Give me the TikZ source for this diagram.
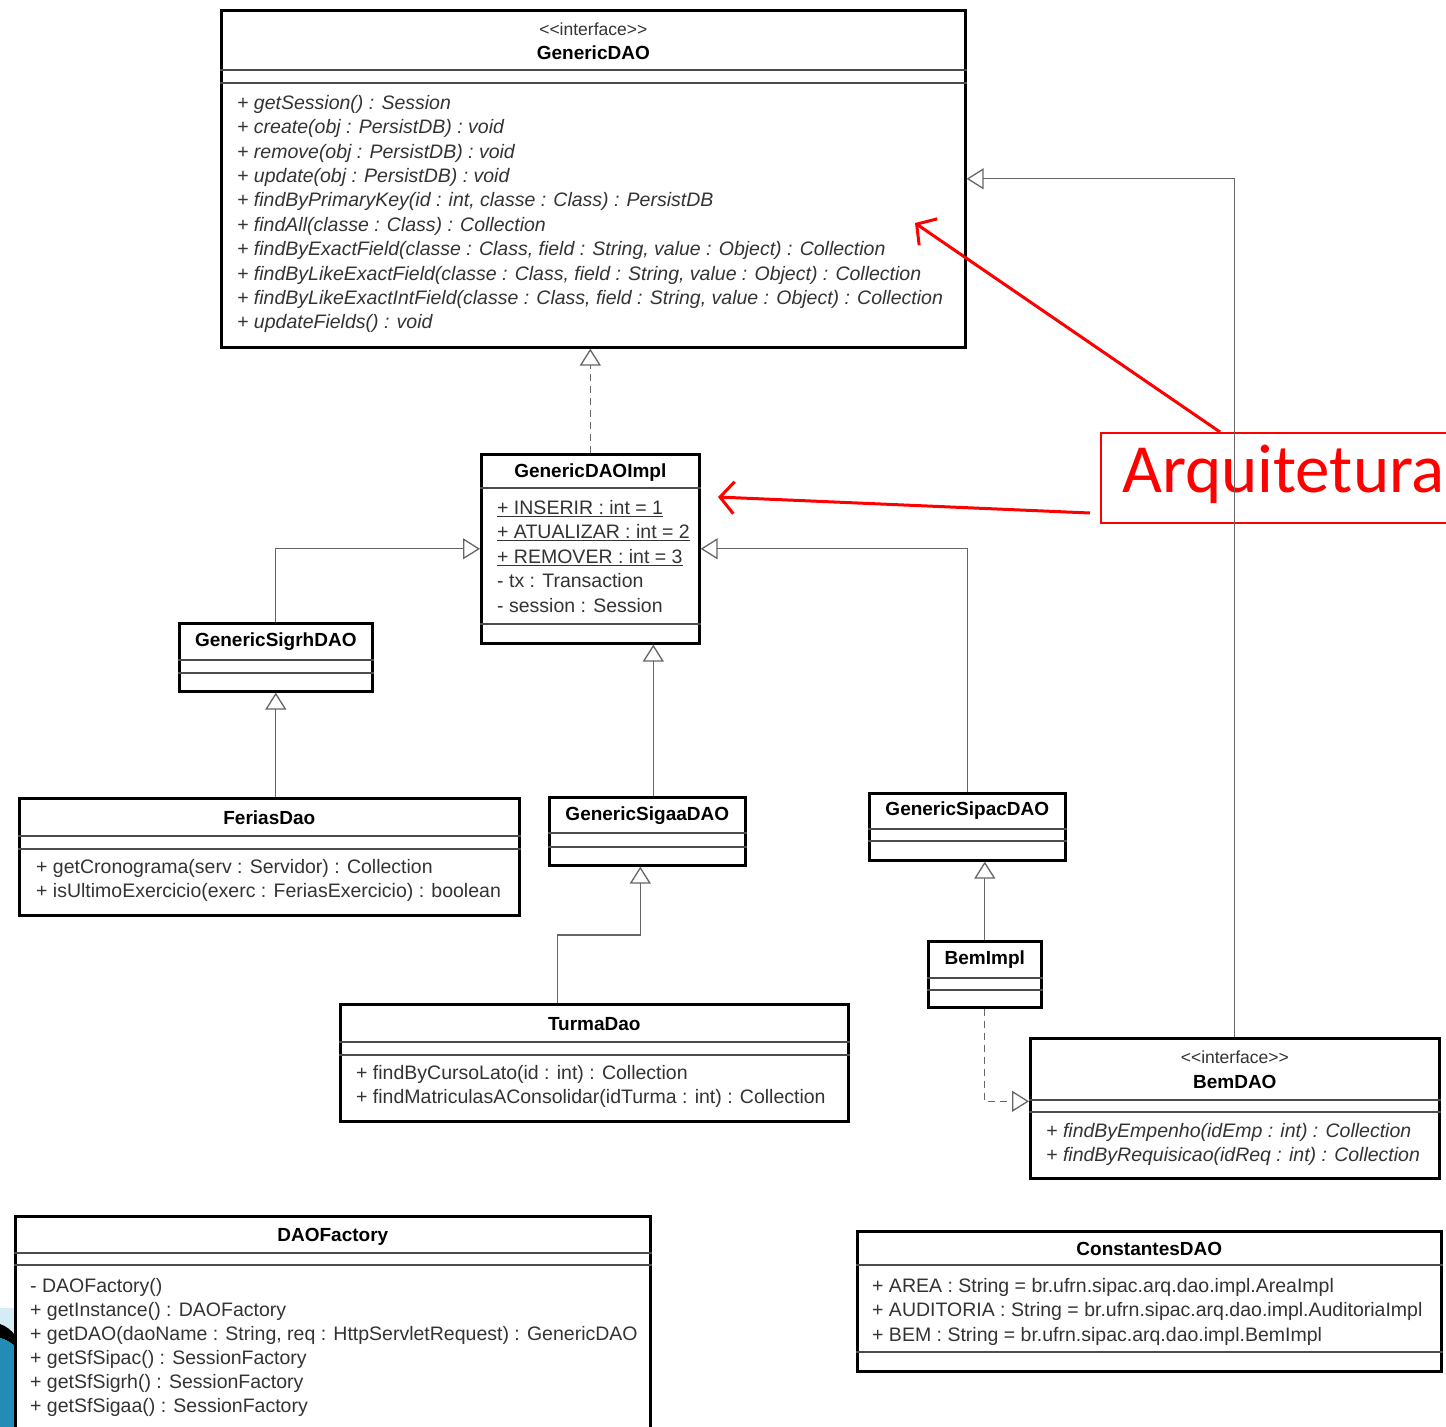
\documentclass[tikz,border=0pt]{standalone}
\usepackage{fontspec}
\setmainfont{Liberation Sans}
\newfontfamily\slidefont{Carlito}
\usetikzlibrary{arrows.meta}
\definecolor{ornteal}{RGB}{34,140,182}
\definecolor{ornpale}{RGB}{214,236,244}

\begin{document}
\begin{tikzpicture}[x=1pt,y=-1pt,
  classbox/.style={draw=black, line width=2.6pt, rectangle, inner sep=0pt, anchor=north west},
  comp/.style={draw=black!70, line width=1.3pt},
  member/.style={inner sep=0pt, anchor=north west, align=left, text=black!80,
    font=\fontsize{19.5}{24.4}\selectfont},
  cname/.style={inner sep=0pt, font=\fontsize{19}{22}\selectfont\bfseries},
  stereo/.style={inner sep=0pt, font=\fontsize{17.5}{20}\selectfont, text=black!80},
  gen/.style={draw=black!60, line width=1.3pt,
    -{Triangle[open, length=17pt, width=21pt, fill=white]}},
  real/.style={gen, dash pattern=on 7pt off 5pt},
  note/.style={draw=red, line width=3pt, -{Straight Barb[length=14pt, width=32pt]}},
]
\useasboundingbox (0,0) rectangle (1446,1427);
\clip (0,0) rectangle (1446,1427);
\fill[white] (0,0) rectangle (1446,1427);

% slide corner ornament
\fill[ornpale] (0,1308) rectangle (15,1427);
\fill[black] (0,1324) .. controls (6,1326) and (11,1330) .. (15,1335)
  -- (15,1346) .. controls (10,1342) and (5,1339) .. (0,1338) -- cycle;
\fill[ornteal] (0,1338) .. controls (5,1339) and (10,1342) .. (15,1346)
  -- (15,1427) -- (0,1427) -- cycle;

% ---- classes ----
\node[classbox, minimum width=744pt, minimum height=337pt] (gd) at (220,9) {};
\draw[comp] (gd.west |- 0,70) -- (gd.east |- 0,70);
\draw[comp] (gd.west |- 0,83) -- (gd.east |- 0,83);
\node[stereo] (gdst) at (gd.center |- 0,29) {<{}<interface>{}>};
\node[cname] (gdname) at (gd.center |- 0,53) {GenericDAO};
\node[member, font=\fontsize{19.5}{24.4}\selectfont\itshape] (gdops) at (237,95) {%
+ getSession() : Session\\
+ create(obj : PersistDB) : void\\
+ remove(obj : PersistDB) : void\\
+ update(obj : PersistDB) : void\\
+ findByPrimaryKey(id : int, classe : Class) : PersistDB\\
+ findAll(classe : Class) : Collection\\
+ findByExactField(classe : Class, field : String, value : Object) : Collection\\
+ findByLikeExactField(classe : Class, field : String, value : Object) : Collection\\
+ findByLikeExactIntField(classe : Class, field : String, value : Object) : Collection\\
+ updateFields() : void};

\node[classbox, minimum width=218pt, minimum height=189pt] (impl) at (480,453) {};
\draw[comp] (impl.west |- 0,488) -- (impl.east |- 0,488);
\draw[comp] (impl.west |- 0,624) -- (impl.east |- 0,624);
\node[cname] (implname) at (impl.center |- 0,473) {GenericDAOImpl};
\node[member, font=\fontsize{19.5}{24.5}\selectfont] (implattr) at (497,500) {%
\underline{+ INSERIR : int = 1}\\
\underline{+ ATUALIZAR : int = 2}\\
\underline{+ REMOVER : int = 3}\\
- tx : Transaction\\
- session : Session};

\node[classbox, minimum width=193pt, minimum height=68pt] (sigrh) at (178,622) {};
\draw[comp] (sigrh.west |- 0,660) -- (sigrh.east |- 0,660);
\draw[comp] (sigrh.west |- 0,673) -- (sigrh.east |- 0,673);
\node[cname] (sigrhname) at (sigrh.center |- 0,642) {GenericSigrhDAO};

\node[classbox, minimum width=500pt, minimum height=117pt] (ferias) at (18,797) {};
\draw[comp] (ferias.west |- 0,836) -- (ferias.east |- 0,836);
\draw[comp] (ferias.west |- 0,849) -- (ferias.east |- 0,849);
\node[cname] (feriasname) at (ferias.center |- 0,818) {FeriasDao};
\node[member, font=\fontsize{19.5}{24}\selectfont] (feriasops) at (36,859) {%
+ getCronograma(serv : Servidor) : Collection\\
+ isUltimoExercicio(exerc : FeriasExercicio) : boolean};

\node[classbox, minimum width=196pt, minimum height=68pt] (sigaa) at (548,796) {};
\draw[comp] (sigaa.west |- 0,833) -- (sigaa.east |- 0,833);
\draw[comp] (sigaa.west |- 0,847) -- (sigaa.east |- 0,847);
\node[cname] (sigaaname) at (sigaa.center |- 0,816) {GenericSigaaDAO};

\node[classbox, minimum width=196pt, minimum height=67pt] (sipac) at (868,792) {};
\draw[comp] (sipac.west |- 0,829) -- (sipac.east |- 0,829);
\draw[comp] (sipac.west |- 0,841) -- (sipac.east |- 0,841);
\node[cname] (sipacname) at (sipac.center |- 0,811) {GenericSipacDAO};

\node[classbox, minimum width=113pt, minimum height=66pt] (bemimpl) at (927,940) {};
\draw[comp] (bemimpl.west |- 0,978) -- (bemimpl.east |- 0,978);
\draw[comp] (bemimpl.west |- 0,990) -- (bemimpl.east |- 0,990);
\node[cname] (bemimplname) at (bemimpl.center |- 0,960) {BemImpl};

\node[classbox, minimum width=508pt, minimum height=117pt] (turma) at (339,1003) {};
\draw[comp] (turma.west |- 0,1042) -- (turma.east |- 0,1042);
\draw[comp] (turma.west |- 0,1055) -- (turma.east |- 0,1055);
\node[cname] (turmaname) at (turma.center |- 0,1024) {TurmaDao};
\node[member, font=\fontsize{19.5}{24}\selectfont] (turmaops) at (356,1065) {%
+ findByCursoLato(id : int) : Collection\\
+ findMatriculasAConsolidar(idTurma : int) : Collection};

\node[classbox, minimum width=409pt, minimum height=140pt] (bemdao) at (1029,1037) {};
\draw[comp] (bemdao.west |- 0,1100) -- (bemdao.east |- 0,1100);
\draw[comp] (bemdao.west |- 0,1112) -- (bemdao.east |- 0,1112);
\node[stereo] (bemdaost) at (bemdao.center |- 0,1057) {<{}<interface>{}>};
\node[cname] (bemdaoname) at (bemdao.center |- 0,1082) {BemDAO};
\node[member, font=\fontsize{19.5}{24}\selectfont\itshape] (bemdaoops) at (1046,1123) {%
+ findByEmpenho(idEmp : int) : Collection\\
+ findByRequisicao(idReq : int) : Collection};

\node[classbox, minimum width=635pt, minimum height=260pt] (factory) at (14,1215) {};
\draw[comp] (factory.west |- 0,1253) -- (factory.east |- 0,1253);
\draw[comp] (factory.west |- 0,1265) -- (factory.east |- 0,1265);
\node[cname] (factoryname) at (factory.center |- 0,1237) {DAOFactory};
\node[member, font=\fontsize{19.5}{24}\selectfont] (factoryops) at (30,1278) {%
- DAOFactory()\\
+ getInstance() : DAOFactory\\
+ getDAO(daoName : String, req : HttpServletRequest) : GenericDAO\\
+ getSfSipac() : SessionFactory\\
+ getSfSigrh() : SessionFactory\\
+ getSfSigaa() : SessionFactory};

\node[classbox, minimum width=584pt, minimum height=140pt] (const) at (856,1230) {};
\draw[comp] (const.west |- 0,1265) -- (const.east |- 0,1265);
\draw[comp] (const.west |- 0,1352) -- (const.east |- 0,1352);
\node[cname] (constname) at (const.center |- 0,1249) {ConstantesDAO};
\node[member, font=\fontsize{19.5}{24.5}\selectfont] (constattr) at (872,1278) {%
+ AREA : String = br.ufrn.sipac.arq.dao.impl.AreaImpl\\
+ AUDITORIA : String = br.ufrn.sipac.arq.dao.impl.AuditoriaImpl\\
+ BEM : String = br.ufrn.sipac.arq.dao.impl.BemImpl};

% ---- callout ----
\node[draw=red, line width=2pt, minimum width=370pt, minimum height=90pt,
  anchor=north west, inner sep=0pt] (arq) at (1100,432) {};
\node[text=red, font=\slidefont\fontsize{69}{72}\selectfont, anchor=base west,
  inner sep=0pt] (arqtext) at (1122,492) {Arquitetura};

% ---- relations ----
\draw[real] (impl.north) -- (impl.north |- gd.south);
\draw[gen] (bemdao.north) |- (gd.east);
\draw[gen] (sigrh.north) |- (impl.west);
\draw[gen] (sipac.north) |- (impl.east);
\draw[gen] ([xshift=6pt]sigaa.north) -- ([xshift=6pt]sigaa.north |- impl.south);
\draw[gen] (sigrh.south |- ferias.north) -- (sigrh.south);
\draw[gen] ([xshift=-37pt]turma.north) -- ++(0,-68) -| ([xshift=-7pt]sigaa.south);
\draw[gen] (bemimpl.north) -- (bemimpl.north |- sipac.south);
\draw[real] (bemimpl.south) |- ([yshift=7pt]bemdao.west);

% ---- callout pointers ----
\coordinate (tipA) at (915,223);
\coordinate (startB) at (1090,513);
\coordinate (tipB) at (718,497);
\draw[note] ([xshift=120pt]arq.north west) -- (tipA);
\draw[note] (startB) -- (tipB);
\end{tikzpicture}
\end{document}
